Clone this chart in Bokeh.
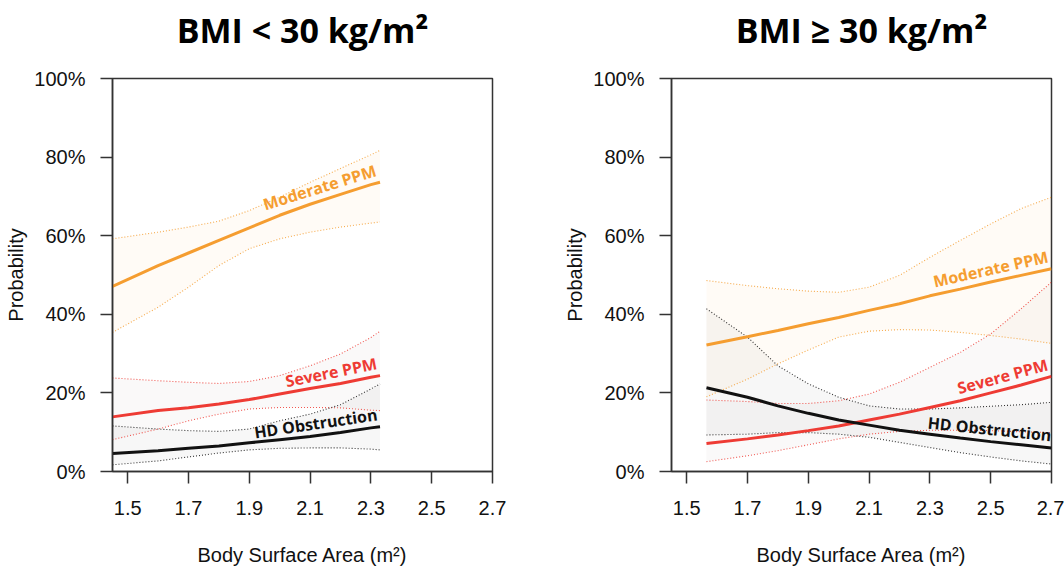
import math
from bokeh.plotting import figure
from bokeh.layouts import row
from bokeh.models import Range1d, FixedTicker, LinearAxis
from bokeh.core.properties import value
from bokeh.embed import file_html
from bokeh.resources import INLINE

# ---------------- data ----------------
titles = ["BMI < 30 kg/m\u00b2", "BMI \u2265 30 kg/m\u00b2"]
x_ticks = [1.5, 1.7, 1.9, 2.1, 2.3, 2.5, 2.7]
x_tick_labels = ["1.5", "1.7", "1.9", "2.1", "2.3", "2.5", "2.7"]
y_ticks = [0, 20, 40, 60, 80, 100]
y_tick_labels = ["0%", "20%", "40%", "60%", "80%", "100%"]
series_names = ["Moderate PPM", "Severe PPM", "HD Obstruction"]

# Left panel: BMI < 30
left_x = [1.45, 1.6, 1.7, 1.8, 1.9, 2.0, 2.1, 2.2, 2.3, 2.33]
left_mod = [47.1, 52.4, 55.6, 58.8, 62.0, 65.2, 68.0, 70.5, 73.0, 73.6]
left_mod_hi = [59.2, 60.9, 62.2, 63.7, 66.4, 69.8, 73.6, 77.1, 80.6, 81.7]
left_mod_lo = [35.4, 41.8, 46.9, 52.4, 56.7, 59.2, 60.9, 62.2, 63.2, 63.5]
left_sev = [13.9, 15.5, 16.2, 17.2, 18.3, 19.7, 21.1, 22.4, 24.0, 24.4]
left_sev_hi = [23.8, 23.1, 22.7, 22.4, 22.9, 24.4, 26.9, 29.9, 34.1, 35.7]
left_sev_lo = [8.1, 10.8, 12.9, 14.6, 15.9, 16.3, 16.3, 16.2, 15.6, 15.5]
left_hd = [4.6, 5.3, 5.9, 6.5, 7.3, 8.1, 8.9, 9.9, 11.1, 11.4]
left_hd_hi = [11.6, 10.8, 10.4, 10.2, 10.8, 12.9, 14.6, 17.0, 21.0, 22.3]
left_hd_lo = [1.7, 2.7, 3.7, 4.7, 5.5, 5.9, 6.0, 6.0, 5.7, 5.5]

# Right panel: BMI >= 30
right_x = [1.565, 1.7, 1.8, 1.9, 2.0, 2.1, 2.2, 2.3, 2.4, 2.5, 2.6, 2.7]
right_mod = [32.2, 34.3, 35.9, 37.6, 39.2, 41.0, 42.7, 44.7, 46.4, 48.2, 49.9, 51.6]
right_mod_hi = [48.6, 47.3, 46.5, 45.9, 45.6, 46.9, 49.9, 54.5, 58.8, 63.0, 66.9, 69.8]
right_mod_lo = [19.0, 23.5, 27.4, 30.9, 34.2, 35.7, 36.1, 36.0, 35.4, 34.6, 33.7, 32.6]
right_sev = [7.1, 8.3, 9.3, 10.4, 11.6, 13.1, 14.6, 16.3, 18.0, 20.0, 22.0, 24.2]
right_sev_hi = [18.2, 17.8, 17.3, 17.3, 18.0, 19.7, 22.7, 26.5, 30.3, 35.0, 41.4, 48.2]
right_sev_lo = [2.5, 4.0, 5.3, 6.8, 8.3, 9.5, 10.2, 10.5, 10.5, 10.4, 10.1, 9.9]
right_hd = [21.3, 18.9, 16.7, 14.8, 13.1, 11.8, 10.5, 9.5, 8.5, 7.6, 6.8, 6.0]
right_hd_hi = [41.4, 34.2, 26.9, 22.3, 18.9, 16.7, 15.9, 15.9, 16.2, 16.6, 17.0, 17.6]
right_hd_lo = [9.3, 9.5, 9.9, 9.9, 9.5, 8.7, 7.4, 6.1, 4.8, 3.7, 2.7, 1.9]

# ---------------- style ----------------
COLORS = ["#F59D30", "#EE3B34", "#111111"]
BAND_COLORS = ["#F59D30", "#A09090", "#7A7A7A"]
BAND_ALPHAS = [0.045, 0.05, 0.06]
X0, X1 = 1.45, 2.7
FRAME_W, FRAME_H = 380, 393
AX_COLOR = "#333333"


def make_panel(title, xs, groups, border_left, border_right):
    p = figure(width=border_left + FRAME_W + border_right, height=569,
               x_range=Range1d(X0, X1), y_range=Range1d(0, 100),
               output_backend="svg", toolbar_location=None,
               min_border_left=border_left, min_border_right=border_right,
               min_border_top=78, min_border_bottom=98)
    p.xgrid.visible = False
    p.ygrid.visible = False
    p.outline_line_color = AX_COLOR
    p.outline_line_width = 1.5
    p.outline_line_alpha = 1.0
    p.background_fill_color = "white"
    p.border_fill_color = "white"

    xax = p.below[0]
    yax = p.left[0]

    for ax in (xax, yax):
        ax.minor_tick_line_color = None
        ax.major_tick_out = 12
        ax.major_tick_in = 0
        ax.axis_line_color = AX_COLOR
        ax.axis_line_width = 1.5
        ax.major_tick_line_color = AX_COLOR
        ax.major_tick_line_width = 1.5
        ax.major_label_text_font = "Liberation Sans"
        ax.major_label_text_font_size = "20px"
        ax.major_label_text_color = "#111111"
        ax.axis_label_text_font = "Liberation Sans"
        ax.axis_label_text_font_size = "20px"
        ax.axis_label_text_font_style = "normal"
        ax.axis_label_text_color = "#111111"

    xax.ticker = FixedTicker(ticks=x_ticks)
    xax.major_label_overrides = dict(zip(x_ticks, x_tick_labels))
    xax.major_label_standoff = 17
    xax.axis_label = "Body Surface Area (m\u00b2)"
    xax.axis_label_standoff = 26
    yax.ticker = FixedTicker(ticks=y_ticks)
    yax.major_label_standoff = 15
    yax.major_label_overrides = dict(zip(y_ticks, y_tick_labels))
    yax.axis_label = "Probability"
    yax.axis_label_standoff = 4

    # panel title drawn as the label of a bare axis above the frame
    tax = LinearAxis(ticker=FixedTicker(ticks=[]), axis_label=title,
                     axis_line_color=None, major_tick_line_color=None,
                     minor_tick_line_color=None, major_tick_out=0, major_tick_in=0,
                     major_label_standoff=0, major_label_text_font_size="1px",
                     axis_label_standoff=26, axis_label_text_font="Open Sans",
                     axis_label_text_font_style="bold",
                     axis_label_text_font_size="34px",
                     axis_label_text_color="#000000")
    p.add_layout(tax, "above")

    sx = FRAME_W / (X1 - X0)
    sy = FRAME_H / 100.0

    # bands
    for i, (mid, hi, lo) in enumerate(groups):
        p.patch(list(xs) + list(xs)[::-1], list(hi) + list(lo)[::-1],
                fill_color=BAND_COLORS[i], fill_alpha=BAND_ALPHAS[i], line_color=None)
    # CI dotted lines
    for i, (mid, hi, lo) in enumerate(groups):
        for arr in (hi, lo):
            p.line(xs, arr, line_color=COLORS[i], line_width=1.1,
                   line_dash="1 2", line_alpha=0.85)
    # main lines
    for i, (mid, hi, lo) in enumerate(groups):
        p.line(xs, mid, line_color=COLORS[i], line_width=3)
    # labels
    for i, (mid, hi, lo) in enumerate(groups):
        ang = math.atan2((mid[-1] - mid[-3]) * sy, (xs[-1] - xs[-3]) * sx)
        p.text(x=[xs[-1] - 0.004], y=[mid[-1] + 0.4], text=[series_names[i]],
               angle=ang, text_align="right", text_baseline="bottom",
               text_font=value("Open Sans"), text_font_style="bold",
               text_font_size="16px", text_color=COLORS[i])
    return p


p1 = make_panel(titles[0], left_x,
                [(left_mod, left_mod_hi, left_mod_lo),
                 (left_sev, left_sev_hi, left_sev_lo),
                 (left_hd, left_hd_hi, left_hd_lo)], 112, 40)
p2 = make_panel(titles[1], right_x,
                [(right_mod, right_mod_hi, right_mod_lo),
                 (right_sev, right_sev_hi, right_sev_lo),
                 (right_hd, right_hd_hi, right_hd_lo)], 139, 13)

layout = row(p1, p2)
open("out.html", "w").write(file_html(layout, INLINE))
